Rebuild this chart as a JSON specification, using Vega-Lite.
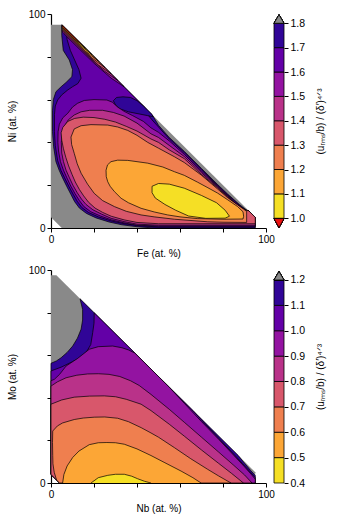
{
"$schema": "https://vega.github.io/schema/vega-lite/v6.json",
"padding": {"left": 7, "top": 9, "right": 5, "bottom": 5},
"config": {
  "font": "Liberation Sans",
  "view": {"stroke": null},
  "axis": {"grid": false, "domainColor": "black", "domainWidth": 1.2, "tickColor": "black", "tickSize": 4, "tickWidth": 1, "labelFontSize": 10, "titleFontSize": 10, "titleFontWeight": "normal", "labelColor": "black", "titleColor": "black", "labelFont": "Liberation Sans", "titleFont": "Liberation Sans"}
},
"datasets": {
"fa": [
{"p":0,"v":1.85,"i":0,"x":0,"y":5},{"p":0,"v":1.85,"i":1,"x":0,"y":95},{"p":0,"v":1.85,"i":2,"x":5,"y":95},{"p":0,"v":1.85,"i":3,"x":95,"y":5},{"p":0,"v":1.85,"i":4,"x":95,"y":0},{"p":0,"v":1.85,"i":5,"x":5,"y":0},
{"p":1,"v":1.75,"i":0,"x":5,"y":95},{"p":1,"v":1.75,"i":1,"x":47,"y":53},{"p":1,"v":1.75,"i":2,"x":50,"y":48},{"p":1,"v":1.75,"i":3,"x":55,"y":42.3},{"p":1,"v":1.75,"i":4,"x":62,"y":35.8},{"p":1,"v":1.75,"i":5,"x":70,"y":27.8},{"p":1,"v":1.75,"i":6,"x":77.5,"y":20.3},{"p":1,"v":1.75,"i":7,"x":82,"y":16},{"p":1,"v":1.75,"i":8,"x":87.6,"y":11},{"p":1,"v":1.75,"i":9,"x":91,"y":8.3},{"p":1,"v":1.75,"i":10,"x":92,"y":8},{"p":1,"v":1.75,"i":11,"x":95,"y":5},{"p":1,"v":1.75,"i":12,"x":95,"y":0},{"p":1,"v":1.75,"i":13,"x":48,"y":0},{"p":1,"v":1.75,"i":14,"x":40,"y":0.6},{"p":1,"v":1.75,"i":15,"x":33,"y":1.5},{"p":1,"v":1.75,"i":16,"x":27,"y":2.8},{"p":1,"v":1.75,"i":17,"x":21,"y":4.7},{"p":1,"v":1.75,"i":18,"x":16.5,"y":6.8},{"p":1,"v":1.75,"i":19,"x":13.2,"y":9.3},{"p":1,"v":1.75,"i":20,"x":11,"y":12.3},{"p":1,"v":1.75,"i":21,"x":9.3,"y":15.6},{"p":1,"v":1.75,"i":22,"x":7.3,"y":19.5},{"p":1,"v":1.75,"i":23,"x":5.4,"y":23.4},{"p":1,"v":1.75,"i":24,"x":3.8,"y":27},{"p":1,"v":1.75,"i":25,"x":2.3,"y":31},{"p":1,"v":1.75,"i":26,"x":1.2,"y":38},{"p":1,"v":1.75,"i":27,"x":0.7,"y":45},{"p":1,"v":1.75,"i":28,"x":0.7,"y":55},{"p":1,"v":1.75,"i":29,"x":1.1,"y":60},{"p":1,"v":1.75,"i":30,"x":2.3,"y":63.7},{"p":1,"v":1.75,"i":31,"x":4.7,"y":66},{"p":1,"v":1.75,"i":32,"x":7,"y":68},{"p":1,"v":1.75,"i":33,"x":9.7,"y":70.7},{"p":1,"v":1.75,"i":34,"x":10,"y":74},{"p":1,"v":1.75,"i":35,"x":8.5,"y":78.5},{"p":1,"v":1.75,"i":36,"x":5.7,"y":83},{"p":1,"v":1.75,"i":37,"x":5,"y":90},{"p":1,"v":1.75,"i":38,"x":5,"y":95},
{"p":2,"v":1.65,"i":0,"x":7,"y":93},{"p":2,"v":1.65,"i":1,"x":44,"y":56},{"p":2,"v":1.65,"i":2,"x":45,"y":53},{"p":2,"v":1.65,"i":3,"x":47,"y":50.5},{"p":2,"v":1.65,"i":4,"x":50,"y":47.2},{"p":2,"v":1.65,"i":5,"x":55,"y":41.6},{"p":2,"v":1.65,"i":6,"x":62,"y":35.2},{"p":2,"v":1.65,"i":7,"x":70,"y":27.2},{"p":2,"v":1.65,"i":8,"x":77.5,"y":19.9},{"p":2,"v":1.65,"i":9,"x":82,"y":15.6},{"p":2,"v":1.65,"i":10,"x":87.5,"y":10.7},{"p":2,"v":1.65,"i":11,"x":91,"y":8.1},{"p":2,"v":1.65,"i":12,"x":92,"y":8},{"p":2,"v":1.65,"i":13,"x":95,"y":5},{"p":2,"v":1.65,"i":14,"x":95,"y":0.5},{"p":2,"v":1.65,"i":15,"x":50,"y":0.5},{"p":2,"v":1.65,"i":16,"x":42,"y":1},{"p":2,"v":1.65,"i":17,"x":34,"y":2},{"p":2,"v":1.65,"i":18,"x":28,"y":3.3},{"p":2,"v":1.65,"i":19,"x":22,"y":5.2},{"p":2,"v":1.65,"i":20,"x":17.5,"y":7.2},{"p":2,"v":1.65,"i":21,"x":14.3,"y":9.6},{"p":2,"v":1.65,"i":22,"x":12.2,"y":12.5},{"p":2,"v":1.65,"i":23,"x":10.3,"y":15.8},{"p":2,"v":1.65,"i":24,"x":8.3,"y":19.5},{"p":2,"v":1.65,"i":25,"x":6.3,"y":23.5},{"p":2,"v":1.65,"i":26,"x":4.6,"y":27},{"p":2,"v":1.65,"i":27,"x":3.1,"y":31.5},{"p":2,"v":1.65,"i":28,"x":2,"y":38.5},{"p":2,"v":1.65,"i":29,"x":1.6,"y":45},{"p":2,"v":1.65,"i":30,"x":1.6,"y":53},{"p":2,"v":1.65,"i":31,"x":2,"y":57},{"p":2,"v":1.65,"i":32,"x":3.1,"y":59.8},{"p":2,"v":1.65,"i":33,"x":5,"y":62.2},{"p":2,"v":1.65,"i":34,"x":7.8,"y":64.5},{"p":2,"v":1.65,"i":35,"x":10,"y":66},{"p":2,"v":1.65,"i":36,"x":12.5,"y":67.5},{"p":2,"v":1.65,"i":37,"x":14,"y":70},{"p":2,"v":1.65,"i":38,"x":13,"y":74},{"p":2,"v":1.65,"i":39,"x":11,"y":78.5},{"p":2,"v":1.65,"i":40,"x":9,"y":83},{"p":2,"v":1.65,"i":41,"x":7.5,"y":88},{"p":2,"v":1.65,"i":42,"x":7,"y":93},
{"p":3,"v":1.75,"i":0,"x":29,"y":59.5},{"p":3,"v":1.75,"i":1,"x":30.5,"y":61},{"p":3,"v":1.75,"i":2,"x":33.5,"y":61.3},{"p":3,"v":1.75,"i":3,"x":37,"y":61},{"p":3,"v":1.75,"i":4,"x":40,"y":59.5},{"p":3,"v":1.75,"i":5,"x":43,"y":57},{"p":3,"v":1.75,"i":6,"x":45.5,"y":54.5},{"p":3,"v":1.75,"i":7,"x":47,"y":53},{"p":3,"v":1.75,"i":8,"x":47.5,"y":52},{"p":3,"v":1.75,"i":9,"x":45,"y":52.5},{"p":3,"v":1.75,"i":10,"x":41,"y":53.3},{"p":3,"v":1.75,"i":11,"x":36,"y":54.3},{"p":3,"v":1.75,"i":12,"x":32,"y":55.7},{"p":3,"v":1.75,"i":13,"x":30,"y":57.5},{"p":3,"v":1.75,"i":14,"x":29,"y":59.5},
{"p":4,"v":1.55,"i":0,"x":5.5,"y":51.5},{"p":4,"v":1.55,"i":1,"x":7.8,"y":53.6},{"p":4,"v":1.55,"i":2,"x":10,"y":56.5},{"p":4,"v":1.55,"i":3,"x":12.4,"y":58.3},{"p":4,"v":1.55,"i":4,"x":15.5,"y":59.6},{"p":4,"v":1.55,"i":5,"x":20,"y":60},{"p":4,"v":1.55,"i":6,"x":26,"y":59.8},{"p":4,"v":1.55,"i":7,"x":28.5,"y":58.8},{"p":4,"v":1.55,"i":8,"x":31,"y":56.5},{"p":4,"v":1.55,"i":9,"x":34,"y":54.5},{"p":4,"v":1.55,"i":10,"x":38,"y":52.5},{"p":4,"v":1.55,"i":11,"x":43,"y":49.8},{"p":4,"v":1.55,"i":12,"x":46.5,"y":46.8},{"p":4,"v":1.55,"i":13,"x":50,"y":44.7},{"p":4,"v":1.55,"i":14,"x":55,"y":40.7},{"p":4,"v":1.55,"i":15,"x":62,"y":34.4},{"p":4,"v":1.55,"i":16,"x":70,"y":26.5},{"p":4,"v":1.55,"i":17,"x":77.5,"y":19.5},{"p":4,"v":1.55,"i":18,"x":82,"y":15.2},{"p":4,"v":1.55,"i":19,"x":87,"y":10.5},{"p":4,"v":1.55,"i":20,"x":90,"y":8.6},{"p":4,"v":1.55,"i":21,"x":92,"y":8},{"p":4,"v":1.55,"i":22,"x":95,"y":5},{"p":4,"v":1.55,"i":23,"x":95,"y":0.9},{"p":4,"v":1.55,"i":24,"x":50,"y":0.9},{"p":4,"v":1.55,"i":25,"x":40,"y":1.3},{"p":4,"v":1.55,"i":26,"x":34,"y":2.4},{"p":4,"v":1.55,"i":27,"x":28,"y":3.8},{"p":4,"v":1.55,"i":28,"x":23,"y":5.6},{"p":4,"v":1.55,"i":29,"x":18.5,"y":7.6},{"p":4,"v":1.55,"i":30,"x":15.3,"y":10},{"p":4,"v":1.55,"i":31,"x":13.2,"y":12.8},{"p":4,"v":1.55,"i":32,"x":11.2,"y":16},{"p":4,"v":1.55,"i":33,"x":9.2,"y":19.6},{"p":4,"v":1.55,"i":34,"x":7.4,"y":23.4},{"p":4,"v":1.55,"i":35,"x":5.8,"y":27},{"p":4,"v":1.55,"i":36,"x":4.4,"y":31},{"p":4,"v":1.55,"i":37,"x":3.5,"y":36},{"p":4,"v":1.55,"i":38,"x":3.2,"y":40},{"p":4,"v":1.55,"i":39,"x":3.3,"y":45},{"p":4,"v":1.55,"i":40,"x":3.9,"y":48.5},{"p":4,"v":1.55,"i":41,"x":5.5,"y":51.5},
{"p":5,"v":1.45,"i":0,"x":6.2,"y":47.3},{"p":5,"v":1.45,"i":1,"x":8,"y":50.5},{"p":5,"v":1.45,"i":2,"x":10.8,"y":52.8},{"p":5,"v":1.45,"i":3,"x":14,"y":54.3},{"p":5,"v":1.45,"i":4,"x":18,"y":55},{"p":5,"v":1.45,"i":5,"x":24,"y":55},{"p":5,"v":1.45,"i":6,"x":29,"y":54},{"p":5,"v":1.45,"i":7,"x":34,"y":52.3},{"p":5,"v":1.45,"i":8,"x":40,"y":49},{"p":5,"v":1.45,"i":9,"x":46.5,"y":44},{"p":5,"v":1.45,"i":10,"x":50,"y":42.3},{"p":5,"v":1.45,"i":11,"x":55,"y":38.6},{"p":5,"v":1.45,"i":12,"x":62,"y":33.4},{"p":5,"v":1.45,"i":13,"x":70,"y":25.8},{"p":5,"v":1.45,"i":14,"x":77.5,"y":19.1},{"p":5,"v":1.45,"i":15,"x":82,"y":14.9},{"p":5,"v":1.45,"i":16,"x":87,"y":10.3},{"p":5,"v":1.45,"i":17,"x":90,"y":8.5},{"p":5,"v":1.45,"i":18,"x":92,"y":8},{"p":5,"v":1.45,"i":19,"x":95,"y":5},{"p":5,"v":1.45,"i":20,"x":95,"y":1.3},{"p":5,"v":1.45,"i":21,"x":50,"y":1.3},{"p":5,"v":1.45,"i":22,"x":40,"y":1.8},{"p":5,"v":1.45,"i":23,"x":34,"y":3},{"p":5,"v":1.45,"i":24,"x":28,"y":4.5},{"p":5,"v":1.45,"i":25,"x":23.5,"y":6.5},{"p":5,"v":1.45,"i":26,"x":19.5,"y":8.5},{"p":5,"v":1.45,"i":27,"x":16.3,"y":11},{"p":5,"v":1.45,"i":28,"x":14.2,"y":13.5},{"p":5,"v":1.45,"i":29,"x":12.2,"y":16.5},{"p":5,"v":1.45,"i":30,"x":10.2,"y":20},{"p":5,"v":1.45,"i":31,"x":8.6,"y":23.4},{"p":5,"v":1.45,"i":32,"x":7,"y":27},{"p":5,"v":1.45,"i":33,"x":5.8,"y":31},{"p":5,"v":1.45,"i":34,"x":5,"y":35},{"p":5,"v":1.45,"i":35,"x":4.8,"y":40},{"p":5,"v":1.45,"i":36,"x":5.2,"y":44},{"p":5,"v":1.45,"i":37,"x":6.2,"y":47.3},
{"p":6,"v":1.35,"i":0,"x":4.7,"y":44.5},{"p":6,"v":1.35,"i":1,"x":5.5,"y":47},{"p":6,"v":1.35,"i":2,"x":7.8,"y":49.8},{"p":6,"v":1.35,"i":3,"x":11,"y":51.2},{"p":6,"v":1.35,"i":4,"x":15,"y":51.8},{"p":6,"v":1.35,"i":5,"x":20,"y":51.6},{"p":6,"v":1.35,"i":6,"x":25,"y":50.8},{"p":6,"v":1.35,"i":7,"x":30,"y":49.5},{"p":6,"v":1.35,"i":8,"x":35,"y":47.5},{"p":6,"v":1.35,"i":9,"x":40,"y":45.3},{"p":6,"v":1.35,"i":10,"x":46.5,"y":41.6},{"p":6,"v":1.35,"i":11,"x":50,"y":40},{"p":6,"v":1.35,"i":12,"x":55,"y":36.5},{"p":6,"v":1.35,"i":13,"x":62,"y":32.4},{"p":6,"v":1.35,"i":14,"x":70,"y":25},{"p":6,"v":1.35,"i":15,"x":77.5,"y":18.7},{"p":6,"v":1.35,"i":16,"x":82,"y":14.6},{"p":6,"v":1.35,"i":17,"x":87,"y":10.1},{"p":6,"v":1.35,"i":18,"x":90,"y":8.4},{"p":6,"v":1.35,"i":19,"x":92,"y":8},{"p":6,"v":1.35,"i":20,"x":95,"y":5},{"p":6,"v":1.35,"i":21,"x":95,"y":2},{"p":6,"v":1.35,"i":22,"x":50,"y":2},{"p":6,"v":1.35,"i":23,"x":40,"y":2.6},{"p":6,"v":1.35,"i":24,"x":34,"y":3.8},{"p":6,"v":1.35,"i":25,"x":28,"y":5.5},{"p":6,"v":1.35,"i":26,"x":24,"y":7.3},{"p":6,"v":1.35,"i":27,"x":20.5,"y":9.3},{"p":6,"v":1.35,"i":28,"x":17.5,"y":12},{"p":6,"v":1.35,"i":29,"x":15.2,"y":15},{"p":6,"v":1.35,"i":30,"x":13.2,"y":18},{"p":6,"v":1.35,"i":31,"x":11.3,"y":21.5},{"p":6,"v":1.35,"i":32,"x":9.8,"y":25},{"p":6,"v":1.35,"i":33,"x":8.2,"y":29},{"p":6,"v":1.35,"i":34,"x":6.9,"y":33},{"p":6,"v":1.35,"i":35,"x":5.8,"y":37},{"p":6,"v":1.35,"i":36,"x":5,"y":41},{"p":6,"v":1.35,"i":37,"x":4.7,"y":44.5},
{"p":7,"v":1.25,"i":0,"x":9.3,"y":42.5},{"p":7,"v":1.25,"i":1,"x":10.8,"y":46.3},{"p":7,"v":1.25,"i":2,"x":14,"y":47.8},{"p":7,"v":1.25,"i":3,"x":18.6,"y":48.3},{"p":7,"v":1.25,"i":4,"x":26.4,"y":48.1},{"p":7,"v":1.25,"i":5,"x":31,"y":47.2},{"p":7,"v":1.25,"i":6,"x":35.7,"y":45.6},{"p":7,"v":1.25,"i":7,"x":40,"y":43.3},{"p":7,"v":1.25,"i":8,"x":45,"y":40},{"p":7,"v":1.25,"i":9,"x":50,"y":37.3},{"p":7,"v":1.25,"i":10,"x":57.4,"y":33.3},{"p":7,"v":1.25,"i":11,"x":62,"y":30.6},{"p":7,"v":1.25,"i":12,"x":69.8,"y":24.8},{"p":7,"v":1.25,"i":13,"x":77.5,"y":18.2},{"p":7,"v":1.25,"i":14,"x":82,"y":14.3},{"p":7,"v":1.25,"i":15,"x":86.8,"y":10.8},{"p":7,"v":1.25,"i":16,"x":89.5,"y":8.9},{"p":7,"v":1.25,"i":17,"x":91,"y":7.7},{"p":7,"v":1.25,"i":18,"x":91,"y":2.6},{"p":7,"v":1.25,"i":19,"x":80,"y":2.7},{"p":7,"v":1.25,"i":20,"x":72.9,"y":2.9},{"p":7,"v":1.25,"i":21,"x":57.4,"y":4.1},{"p":7,"v":1.25,"i":22,"x":48,"y":5.2},{"p":7,"v":1.25,"i":23,"x":41.9,"y":6.1},{"p":7,"v":1.25,"i":24,"x":35,"y":7.8},{"p":7,"v":1.25,"i":25,"x":29.5,"y":10},{"p":7,"v":1.25,"i":26,"x":24,"y":12.8},{"p":7,"v":1.25,"i":27,"x":20.1,"y":16.2},{"p":7,"v":1.25,"i":28,"x":17,"y":20.5},{"p":7,"v":1.25,"i":29,"x":14,"y":25.6},{"p":7,"v":1.25,"i":30,"x":12.2,"y":30},{"p":7,"v":1.25,"i":31,"x":10.8,"y":34.9},{"p":7,"v":1.25,"i":32,"x":9.6,"y":39},{"p":7,"v":1.25,"i":33,"x":9.3,"y":42.5},
{"p":8,"v":1.15,"i":0,"x":25.6,"y":27},{"p":8,"v":1.15,"i":1,"x":26.3,"y":29.5},{"p":8,"v":1.15,"i":2,"x":27.9,"y":31},{"p":8,"v":1.15,"i":3,"x":31,"y":31.7},{"p":8,"v":1.15,"i":4,"x":35.7,"y":31.6},{"p":8,"v":1.15,"i":5,"x":40,"y":31},{"p":8,"v":1.15,"i":6,"x":45,"y":30.3},{"p":8,"v":1.15,"i":7,"x":52,"y":28.5},{"p":8,"v":1.15,"i":8,"x":57.4,"y":26.3},{"p":8,"v":1.15,"i":9,"x":62,"y":24.6},{"p":8,"v":1.15,"i":10,"x":68.2,"y":21.4},{"p":8,"v":1.15,"i":11,"x":73,"y":18.8},{"p":8,"v":1.15,"i":12,"x":77.5,"y":16.3},{"p":8,"v":1.15,"i":13,"x":82,"y":13.3},{"p":8,"v":1.15,"i":14,"x":86.8,"y":10},{"p":8,"v":1.15,"i":15,"x":89.3,"y":7.6},{"p":8,"v":1.15,"i":16,"x":89.6,"y":5.5},{"p":8,"v":1.15,"i":17,"x":89.3,"y":4.2},{"p":8,"v":1.15,"i":18,"x":80,"y":4.1},{"p":8,"v":1.15,"i":19,"x":68,"y":4.4},{"p":8,"v":1.15,"i":20,"x":60,"y":5.2},{"p":8,"v":1.15,"i":21,"x":54.3,"y":6.1},{"p":8,"v":1.15,"i":22,"x":48,"y":7.5},{"p":8,"v":1.15,"i":23,"x":41.9,"y":9.2},{"p":8,"v":1.15,"i":24,"x":36,"y":11.8},{"p":8,"v":1.15,"i":25,"x":32.6,"y":13.9},{"p":8,"v":1.15,"i":26,"x":29.5,"y":17},{"p":8,"v":1.15,"i":27,"x":27.5,"y":19.5},{"p":8,"v":1.15,"i":28,"x":26.4,"y":21.6},{"p":8,"v":1.15,"i":29,"x":25.7,"y":24},{"p":8,"v":1.15,"i":30,"x":25.6,"y":27},
{"p":9,"v":1.05,"i":0,"x":47,"y":19.5},{"p":9,"v":1.05,"i":1,"x":50,"y":20.8},{"p":9,"v":1.05,"i":2,"x":55,"y":20.5},{"p":9,"v":1.05,"i":3,"x":62,"y":18.6},{"p":9,"v":1.05,"i":4,"x":70,"y":15.2},{"p":9,"v":1.05,"i":5,"x":77,"y":11.8},{"p":9,"v":1.05,"i":6,"x":81,"y":8.3},{"p":9,"v":1.05,"i":7,"x":83,"y":5.5},{"p":9,"v":1.05,"i":8,"x":81,"y":4.6},{"p":9,"v":1.05,"i":9,"x":72,"y":4.5},{"p":9,"v":1.05,"i":10,"x":64,"y":5.6},{"p":9,"v":1.05,"i":11,"x":58,"y":8.3},{"p":9,"v":1.05,"i":12,"x":53,"y":11},{"p":9,"v":1.05,"i":13,"x":48.5,"y":14},{"p":9,"v":1.05,"i":14,"x":47,"y":16.5},{"p":9,"v":1.05,"i":15,"x":47,"y":19.5},
{"p":10,"v":1.55,"i":0,"x":5.3,"y":94.7},{"p":10,"v":1.55,"i":1,"x":34,"y":66},{"p":10,"v":1.55,"i":2,"x":28,"y":70},{"p":10,"v":1.55,"i":3,"x":20,"y":77},{"p":10,"v":1.55,"i":4,"x":12,"y":84.8},{"p":10,"v":1.55,"i":5,"x":6,"y":90.8},{"p":10,"v":1.55,"i":6,"x":5.3,"y":91.6},{"p":10,"v":1.55,"i":7,"x":5.3,"y":94.7},
{"p":11,"v":1.45,"i":0,"x":5.3,"y":94.7},{"p":11,"v":1.45,"i":1,"x":31,"y":69},{"p":11,"v":1.45,"i":2,"x":25,"y":73.2},{"p":11,"v":1.45,"i":3,"x":18,"y":79.5},{"p":11,"v":1.45,"i":4,"x":12,"y":85.4},{"p":11,"v":1.45,"i":5,"x":6,"y":91.4},{"p":11,"v":1.45,"i":6,"x":5.3,"y":92.1},{"p":11,"v":1.45,"i":7,"x":5.3,"y":94.7},
{"p":12,"v":1.35,"i":0,"x":5.3,"y":94.7},{"p":12,"v":1.35,"i":1,"x":28,"y":72},{"p":12,"v":1.35,"i":2,"x":22,"y":76.2},{"p":12,"v":1.35,"i":3,"x":15,"y":82.9},{"p":12,"v":1.35,"i":4,"x":9,"y":88.9},{"p":12,"v":1.35,"i":5,"x":5.3,"y":92.6},{"p":12,"v":1.35,"i":6,"x":5.3,"y":94.7},
{"p":13,"v":1.25,"i":0,"x":5.3,"y":94.7},{"p":13,"v":1.25,"i":1,"x":25,"y":75},{"p":13,"v":1.25,"i":2,"x":19,"y":79.5},{"p":13,"v":1.25,"i":3,"x":12,"y":86.3},{"p":13,"v":1.25,"i":4,"x":5.3,"y":93},{"p":13,"v":1.25,"i":5,"x":5.3,"y":94.7},
{"p":14,"v":1.15,"i":0,"x":5.3,"y":94.7},{"p":14,"v":1.15,"i":1,"x":22,"y":78},{"p":14,"v":1.15,"i":2,"x":16,"y":82.7},{"p":14,"v":1.15,"i":3,"x":9,"y":89.7},{"p":14,"v":1.15,"i":4,"x":5.3,"y":93.4},{"p":14,"v":1.15,"i":5,"x":5.3,"y":94.7},
{"p":15,"v":1.05,"i":0,"x":5.3,"y":94.7},{"p":15,"v":1.05,"i":1,"x":19,"y":81},{"p":15,"v":1.05,"i":2,"x":13,"y":86},{"p":15,"v":1.05,"i":3,"x":5.3,"y":93.7},{"p":15,"v":1.05,"i":4,"x":5.3,"y":94.7},
{"p":16,"v":0.95,"i":0,"x":5.3,"y":94.7},{"p":16,"v":0.95,"i":1,"x":16,"y":84},{"p":16,"v":0.95,"i":2,"x":11,"y":88.3},{"p":16,"v":0.95,"i":3,"x":5.3,"y":94},{"p":16,"v":0.95,"i":4,"x":5.3,"y":94.7}
],
"fb": [
{"p":0,"v":1.25,"i":0,"x":0,"y":4},{"p":0,"v":1.25,"i":1,"x":0,"y":97.5},{"p":0,"v":1.25,"i":2,"x":2.5,"y":97.5},{"p":0,"v":1.25,"i":3,"x":95,"y":5},{"p":0,"v":1.25,"i":4,"x":95,"y":0},{"p":0,"v":1.25,"i":5,"x":4,"y":0},
{"p":1,"v":1.15,"i":0,"x":0,"y":56.2},{"p":1,"v":1.15,"i":1,"x":2.5,"y":57.3},{"p":1,"v":1.15,"i":2,"x":4.7,"y":58.8},{"p":1,"v":1.15,"i":3,"x":7.5,"y":61.3},{"p":1,"v":1.15,"i":4,"x":10.1,"y":64.3},{"p":1,"v":1.15,"i":5,"x":12.3,"y":68},{"p":1,"v":1.15,"i":6,"x":14,"y":72.2},{"p":1,"v":1.15,"i":7,"x":14.7,"y":76.5},{"p":1,"v":1.15,"i":8,"x":14.7,"y":81.5},{"p":1,"v":1.15,"i":9,"x":13.5,"y":86.5},{"p":1,"v":1.15,"i":10,"x":87,"y":13},{"p":1,"v":1.15,"i":11,"x":90,"y":9.3},{"p":1,"v":1.15,"i":12,"x":93,"y":5.7},{"p":1,"v":1.15,"i":13,"x":95,"y":3.5},{"p":1,"v":1.15,"i":14,"x":95,"y":0},{"p":1,"v":1.15,"i":15,"x":4,"y":0},{"p":1,"v":1.15,"i":16,"x":0,"y":4},{"p":1,"v":1.15,"i":17,"x":0,"y":56.2},
{"p":2,"v":1.05,"i":0,"x":0,"y":52.6},{"p":2,"v":1.05,"i":1,"x":5,"y":54.5},{"p":2,"v":1.05,"i":2,"x":10.1,"y":57},{"p":2,"v":1.05,"i":3,"x":14,"y":59},{"p":2,"v":1.05,"i":4,"x":16.3,"y":61.2},{"p":2,"v":1.05,"i":5,"x":18.5,"y":65},{"p":2,"v":1.05,"i":6,"x":19.4,"y":70.6},{"p":2,"v":1.05,"i":7,"x":20,"y":75},{"p":2,"v":1.05,"i":8,"x":20.1,"y":79.9},{"p":2,"v":1.05,"i":9,"x":66,"y":34},{"p":2,"v":1.05,"i":10,"x":72,"y":27.4},{"p":2,"v":1.05,"i":11,"x":78,"y":21},{"p":2,"v":1.05,"i":12,"x":84,"y":14.6},{"p":2,"v":1.05,"i":13,"x":89,"y":9.2},{"p":2,"v":1.05,"i":14,"x":92.5,"y":5.3},{"p":2,"v":1.05,"i":15,"x":95,"y":2.5},{"p":2,"v":1.05,"i":16,"x":95,"y":0},{"p":2,"v":1.05,"i":17,"x":4,"y":0},{"p":2,"v":1.05,"i":18,"x":0,"y":4},{"p":2,"v":1.05,"i":19,"x":0,"y":52.6},
{"p":3,"v":0.95,"i":0,"x":0,"y":48},{"p":3,"v":0.95,"i":1,"x":1.6,"y":48.7},{"p":3,"v":0.95,"i":2,"x":4,"y":51},{"p":3,"v":0.95,"i":3,"x":7,"y":54.9},{"p":3,"v":0.95,"i":4,"x":12.4,"y":58.5},{"p":3,"v":0.95,"i":5,"x":17.8,"y":62.8},{"p":3,"v":0.95,"i":6,"x":22,"y":64},{"p":3,"v":0.95,"i":7,"x":28.7,"y":64.3},{"p":3,"v":0.95,"i":8,"x":33,"y":63.5},{"p":3,"v":0.95,"i":9,"x":36,"y":62.5},{"p":3,"v":0.95,"i":10,"x":39,"y":61},{"p":3,"v":0.95,"i":11,"x":55,"y":45},{"p":3,"v":0.95,"i":12,"x":62,"y":37.4},{"p":3,"v":0.95,"i":13,"x":70,"y":28.8},{"p":3,"v":0.95,"i":14,"x":78,"y":20.5},{"p":3,"v":0.95,"i":15,"x":85,"y":13},{"p":3,"v":0.95,"i":16,"x":90,"y":7.6},{"p":3,"v":0.95,"i":17,"x":93,"y":4.2},{"p":3,"v":0.95,"i":18,"x":95,"y":1.8},{"p":3,"v":0.95,"i":19,"x":95,"y":0},{"p":3,"v":0.95,"i":20,"x":4,"y":0},{"p":3,"v":0.95,"i":21,"x":0,"y":4},{"p":3,"v":0.95,"i":22,"x":0,"y":48},
{"p":4,"v":0.85,"i":0,"x":0,"y":45.5},{"p":4,"v":0.85,"i":1,"x":3,"y":47.5},{"p":4,"v":0.85,"i":2,"x":7,"y":49.4},{"p":4,"v":0.85,"i":3,"x":12,"y":50.6},{"p":4,"v":0.85,"i":4,"x":17,"y":51.2},{"p":4,"v":0.85,"i":5,"x":22,"y":51.3},{"p":4,"v":0.85,"i":6,"x":27,"y":51},{"p":4,"v":0.85,"i":7,"x":32,"y":50},{"p":4,"v":0.85,"i":8,"x":37,"y":48},{"p":4,"v":0.85,"i":9,"x":41,"y":45.8},{"p":4,"v":0.85,"i":10,"x":46.5,"y":41.6},{"p":4,"v":0.85,"i":11,"x":55,"y":34.6},{"p":4,"v":0.85,"i":12,"x":62,"y":28.5},{"p":4,"v":0.85,"i":13,"x":70,"y":21.5},{"p":4,"v":0.85,"i":14,"x":78,"y":14.5},{"p":4,"v":0.85,"i":15,"x":85,"y":8.3},{"p":4,"v":0.85,"i":16,"x":90,"y":3.8},{"p":4,"v":0.85,"i":17,"x":93.5,"y":0},{"p":4,"v":0.85,"i":18,"x":4,"y":0},{"p":4,"v":0.85,"i":19,"x":0,"y":4},{"p":4,"v":0.85,"i":20,"x":0,"y":45.5},
{"p":5,"v":0.75,"i":0,"x":0,"y":37},{"p":5,"v":0.75,"i":1,"x":5,"y":39},{"p":5,"v":0.75,"i":2,"x":10.8,"y":40.3},{"p":5,"v":0.75,"i":3,"x":18,"y":40.8},{"p":5,"v":0.75,"i":4,"x":24.8,"y":40.9},{"p":5,"v":0.75,"i":5,"x":30,"y":40.5},{"p":5,"v":0.75,"i":6,"x":35,"y":39.3},{"p":5,"v":0.75,"i":7,"x":41.9,"y":37},{"p":5,"v":0.75,"i":8,"x":46.5,"y":34},{"p":5,"v":0.75,"i":9,"x":55,"y":27.6},{"p":5,"v":0.75,"i":10,"x":62,"y":22},{"p":5,"v":0.75,"i":11,"x":70,"y":15.5},{"p":5,"v":0.75,"i":12,"x":78,"y":9.2},{"p":5,"v":0.75,"i":13,"x":84,"y":4.5},{"p":5,"v":0.75,"i":14,"x":89.5,"y":0},{"p":5,"v":0.75,"i":15,"x":4,"y":0},{"p":5,"v":0.75,"i":16,"x":0,"y":4},{"p":5,"v":0.75,"i":17,"x":0,"y":37},
{"p":6,"v":0.65,"i":0,"x":0.8,"y":24.4},{"p":6,"v":0.65,"i":1,"x":3,"y":26.8},{"p":6,"v":0.65,"i":2,"x":5.4,"y":28.2},{"p":6,"v":0.65,"i":3,"x":10.8,"y":29.8},{"p":6,"v":0.65,"i":4,"x":15,"y":30.5},{"p":6,"v":0.65,"i":5,"x":20.1,"y":30.9},{"p":6,"v":0.65,"i":6,"x":25,"y":31},{"p":6,"v":0.65,"i":7,"x":31,"y":30.4},{"p":6,"v":0.65,"i":8,"x":36,"y":28.8},{"p":6,"v":0.65,"i":9,"x":41.9,"y":26},{"p":6,"v":0.65,"i":10,"x":46.5,"y":23.5},{"p":6,"v":0.65,"i":11,"x":50,"y":21.5},{"p":6,"v":0.65,"i":12,"x":57.4,"y":16.6},{"p":6,"v":0.65,"i":13,"x":65,"y":11.4},{"p":6,"v":0.65,"i":14,"x":72.9,"y":6.4},{"p":6,"v":0.65,"i":15,"x":78,"y":3.3},{"p":6,"v":0.65,"i":16,"x":83.7,"y":0},{"p":6,"v":0.65,"i":17,"x":4,"y":0},{"p":6,"v":0.65,"i":18,"x":2.6,"y":1.4},{"p":6,"v":0.65,"i":19,"x":1.5,"y":5},{"p":6,"v":0.65,"i":20,"x":0.9,"y":9},{"p":6,"v":0.65,"i":21,"x":0.8,"y":13},{"p":6,"v":0.65,"i":22,"x":0.7,"y":19},{"p":6,"v":0.65,"i":23,"x":0.8,"y":24.4},
{"p":7,"v":0.55,"i":0,"x":5.4,"y":0},{"p":7,"v":0.55,"i":1,"x":6,"y":4},{"p":7,"v":0.55,"i":2,"x":7.5,"y":8},{"p":7,"v":0.55,"i":3,"x":10.1,"y":12},{"p":7,"v":0.55,"i":4,"x":13,"y":15},{"p":7,"v":0.55,"i":5,"x":17.8,"y":18},{"p":7,"v":0.55,"i":6,"x":22,"y":18.9},{"p":7,"v":0.55,"i":7,"x":26,"y":19},{"p":7,"v":0.55,"i":8,"x":30,"y":18.9},{"p":7,"v":0.55,"i":9,"x":34.1,"y":18.2},{"p":7,"v":0.55,"i":10,"x":40,"y":16},{"p":7,"v":0.55,"i":11,"x":46.5,"y":12.9},{"p":7,"v":0.55,"i":12,"x":53,"y":9.5},{"p":7,"v":0.55,"i":13,"x":60.5,"y":5.6},{"p":7,"v":0.55,"i":14,"x":66,"y":2.5},{"p":7,"v":0.55,"i":15,"x":69.8,"y":0},
{"p":8,"v":0.45,"i":0,"x":18.6,"y":0},{"p":8,"v":0.45,"i":1,"x":22,"y":2.5},{"p":8,"v":0.45,"i":2,"x":26.4,"y":3.6},{"p":8,"v":0.45,"i":3,"x":30,"y":4.1},{"p":8,"v":0.45,"i":4,"x":34.1,"y":4.1},{"p":8,"v":0.45,"i":5,"x":37.5,"y":3.2},{"p":8,"v":0.45,"i":6,"x":40.3,"y":2},{"p":8,"v":0.45,"i":7,"x":43.5,"y":0.8},{"p":8,"v":0.45,"i":8,"x":46.5,"y":0}
],
"ca": [
{"lo":1.0,"hi":1.1,"v":1.05},{"lo":1.1,"hi":1.2,"v":1.15},{"lo":1.2,"hi":1.3,"v":1.25},{"lo":1.3,"hi":1.4,"v":1.35},{"lo":1.4,"hi":1.5,"v":1.45},{"lo":1.5,"hi":1.6,"v":1.55},{"lo":1.6,"hi":1.7,"v":1.65},{"lo":1.7,"hi":1.8,"v":1.75}
],
"cb": [
{"lo":0.4,"hi":0.5,"v":0.45},{"lo":0.5,"hi":0.6,"v":0.55},{"lo":0.6,"hi":0.7,"v":0.65},{"lo":0.7,"hi":0.8,"v":0.75},{"lo":0.8,"hi":0.9,"v":0.85},{"lo":0.9,"hi":1.0,"v":0.95},{"lo":1.0,"hi":1.1,"v":1.05},{"lo":1.1,"hi":1.2,"v":1.15}
]
},
"spacing": 7,
"resolve": {"scale": {"x": "independent", "y": "independent", "fill": "independent"}},
"vconcat": [
{
"bounds": "flush",
"spacing": 8,
"resolve": {"scale": {"x": "independent", "y": "independent", "fill": "independent"}},
"hconcat": [
{
"width": 215, "height": 214,
"layer": [
{"data": {"name": "fa"}, "transform": [{"filter": "datum.p == 0"}],
 "mark": {"type": "line", "strokeWidth": 0},
 "encoding": {
  "x": {"field": "x", "type": "quantitative", "title": "Fe (at. %)", "scale": {"domain": [0, 100], "nice": false}, "axis": {"values": [0,10,20,30,40,50,60,70,80,90,100], "labelExpr": "datum.value % 50 == 0 ? datum.label : ''", "labelFlush": false, "labelOverlap": false}},
  "y": {"field": "y", "type": "quantitative", "title": "Ni (at. %)", "scale": {"domain": [0, 100], "nice": false}, "axis": {"values": [0,10,20,30,40,50,60,70,80,90,100], "labelExpr": "datum.value % 50 == 0 ? datum.label : ''", "labelFlush": false, "labelOverlap": false, "titlePadding": 11}},
  "detail": {"field": "p", "type": "nominal"},
  "order": {"field": "i", "type": "quantitative"},
  "fill": {"field": "v", "type": "quantitative", "legend": null, "scale": {"type": "threshold", "domain": [1.0,1.1,1.2,1.3,1.4,1.5,1.6,1.7,1.8], "range": ["#ee1111","#f5df25","#fca636","#ef7f4f","#d8576b","#b93289","#9313a1","#6300a7","#300597","#898989"]}}
 }},
{"data": {"name": "fa"}, "transform": [{"filter": "datum.p > 0"}],
 "mark": {"type": "line", "stroke": "black", "strokeWidth": 0.7, "strokeJoin": "round"},
 "encoding": {
  "x": {"field": "x", "type": "quantitative", "title": "Fe (at. %)"},
  "y": {"field": "y", "type": "quantitative", "title": "Ni (at. %)"},
  "detail": {"field": "p", "type": "nominal"},
  "order": {"field": "i", "type": "quantitative"},
  "fill": {"field": "v", "type": "quantitative", "legend": null, "scale": {"type": "threshold", "domain": [1.0,1.1,1.2,1.3,1.4,1.5,1.6,1.7,1.8], "range": ["#ee1111","#f5df25","#fca636","#ef7f4f","#d8576b","#b93289","#9313a1","#6300a7","#300597","#898989"]}}
 }},
{"mark": {"type": "rule", "color": "black", "strokeWidth": 1.2},
 "encoding": {"x": {"datum": 0}, "y": {"datum": 100}, "x2": {"datum": 100}, "y2": {"datum": 0}}},
{"mark": {"type": "text", "align": "left", "baseline": "alphabetic", "fontSize": 10.5, "text": "(a) FeNiCr"},
 "encoding": {"x": {"datum": 8}, "y": {"datum": 96}}}
]
},
{
"width": 10, "height": 214,
"data": {"name": "ca"},
"encoding": {
  "x": {"datum": 0, "type": "quantitative", "scale": {"domain": [0, 1]}, "axis": null},
  "y": {"field": "lo", "type": "quantitative", "scale": {"domain": [0.960, 1.838], "nice": false, "zero": false}, "title": "(uᵣₘₛ/b) / (δ′)⁴ᐟ³", "axis": {"orient": "right", "values": [1.0,1.1,1.2,1.3,1.4,1.5,1.6,1.7,1.8], "tickCount": 9, "format": ".1f", "domain": false, "labelPadding": 2, "labelFontSize": 10.5, "labelOverlap": false, "labelFlush": false, "titleAngle": 270, "titleBaseline": "top", "titlePadding": 11}}
},
"layer": [
{"mark": {"type": "rect", "stroke": "black", "strokeWidth": 0.8},
 "encoding": {
  "x2": {"datum": 1},
  "y2": {"field": "hi"},
  "fill": {"field": "v", "type": "quantitative", "legend": null, "scale": {"type": "threshold", "domain": [1.0,1.1,1.2,1.3,1.4,1.5,1.6,1.7,1.8], "range": ["#ee1111","#f5df25","#fca636","#ef7f4f","#d8576b","#b93289","#9313a1","#6300a7","#300597","#898989"]}}
 }},
{"mark": {"type": "point", "shape": "M-1,0.85L1,0.85L0,-0.85Z", "size": 100, "filled": true, "fill": "#898989", "stroke": "black", "strokeWidth": 0.8, "opacity": 1},
 "encoding": {"x": {"datum": 0.5}, "y": {"datum": 1.8174}}},
{"mark": {"type": "point", "shape": "M-1,-0.9L1,-0.9L0,0.9Z", "size": 100, "filled": true, "fill": "#ee1111", "stroke": "black", "strokeWidth": 0.8, "opacity": 1},
 "encoding": {"x": {"datum": 0.5}, "y": {"datum": 0.980}}}
]
}
]
},
{
"bounds": "flush",
"spacing": 8,
"resolve": {"scale": {"x": "independent", "y": "independent", "fill": "independent"}},
"hconcat": [
{
"width": 215, "height": 213,
"layer": [
{"data": {"name": "fb"}, "transform": [{"filter": "datum.p == 0"}],
 "mark": {"type": "line", "strokeWidth": 0},
 "encoding": {
  "x": {"field": "x", "type": "quantitative", "title": "Nb (at. %)", "scale": {"domain": [0, 100], "nice": false}, "axis": {"values": [0,10,20,30,40,50,60,70,80,90,100], "labelExpr": "datum.value % 50 == 0 ? datum.label : ''", "labelFlush": false, "labelOverlap": false}},
  "y": {"field": "y", "type": "quantitative", "title": "Mo (at. %)", "scale": {"domain": [0, 100], "nice": false}, "axis": {"values": [0,10,20,30,40,50,60,70,80,90,100], "labelExpr": "datum.value % 50 == 0 ? datum.label : ''", "labelFlush": false, "labelOverlap": false, "titlePadding": 11}},
  "detail": {"field": "p", "type": "nominal"},
  "order": {"field": "i", "type": "quantitative"},
  "fill": {"field": "v", "type": "quantitative", "legend": null, "scale": {"type": "threshold", "domain": [0.4,0.5,0.6,0.7,0.8,0.9,1.0,1.1,1.2], "range": ["#ffffff","#f5df25","#fca636","#ef7f4f","#d8576b","#b93289","#9313a1","#6300a7","#300597","#898989"]}}
 }},
{"data": {"name": "fb"}, "transform": [{"filter": "datum.p > 0"}],
 "mark": {"type": "line", "stroke": "black", "strokeWidth": 0.7, "strokeJoin": "round"},
 "encoding": {
  "x": {"field": "x", "type": "quantitative", "title": "Nb (at. %)"},
  "y": {"field": "y", "type": "quantitative", "title": "Mo (at. %)"},
  "detail": {"field": "p", "type": "nominal"},
  "order": {"field": "i", "type": "quantitative"},
  "fill": {"field": "v", "type": "quantitative", "legend": null, "scale": {"type": "threshold", "domain": [0.4,0.5,0.6,0.7,0.8,0.9,1.0,1.1,1.2], "range": ["#ffffff","#f5df25","#fca636","#ef7f4f","#d8576b","#b93289","#9313a1","#6300a7","#300597","#898989"]}}
 }},
{"mark": {"type": "rule", "color": "black", "strokeWidth": 1.2},
 "encoding": {"x": {"datum": 0}, "y": {"datum": 100}, "x2": {"datum": 100}, "y2": {"datum": 0}}},
{"mark": {"type": "text", "align": "left", "baseline": "alphabetic", "fontSize": 10.5, "text": "(b) NbMoV"},
 "encoding": {"x": {"datum": 8}, "y": {"datum": 96.2}}}
]
},
{
"width": 10, "height": 213,
"data": {"name": "cb"},
"encoding": {
  "x": {"datum": 0, "type": "quantitative", "scale": {"domain": [0, 1]}, "axis": null},
  "y": {"field": "lo", "type": "quantitative", "scale": {"domain": [0.4, 1.2394], "nice": false, "zero": false}, "title": "(uᵣₘₛ/b) / (δ′)⁴ᐟ³", "axis": {"orient": "right", "values": [0.4,0.5,0.6,0.7,0.8,0.9,1.0,1.1,1.2], "tickCount": 9, "format": ".1f", "domain": false, "labelPadding": 2, "labelFontSize": 10.5, "labelOverlap": false, "labelFlush": false, "titleAngle": 270, "titleBaseline": "top", "titlePadding": 11}}
},
"layer": [
{"mark": {"type": "rect", "stroke": "black", "strokeWidth": 0.8},
 "encoding": {
  "x2": {"datum": 1},
  "y2": {"field": "hi"},
  "fill": {"field": "v", "type": "quantitative", "legend": null, "scale": {"type": "threshold", "domain": [0.4,0.5,0.6,0.7,0.8,0.9,1.0,1.1,1.2], "range": ["#ffffff","#f5df25","#fca636","#ef7f4f","#d8576b","#b93289","#9313a1","#6300a7","#300597","#898989"]}}
 }},
{"mark": {"type": "point", "shape": "M-1,0.85L1,0.85L0,-0.85Z", "size": 100, "filled": true, "fill": "#898989", "stroke": "black", "strokeWidth": 0.8, "opacity": 1},
 "encoding": {"x": {"datum": 0.5}, "y": {"datum": 1.2167}}}
]
}
]
}
]
}
